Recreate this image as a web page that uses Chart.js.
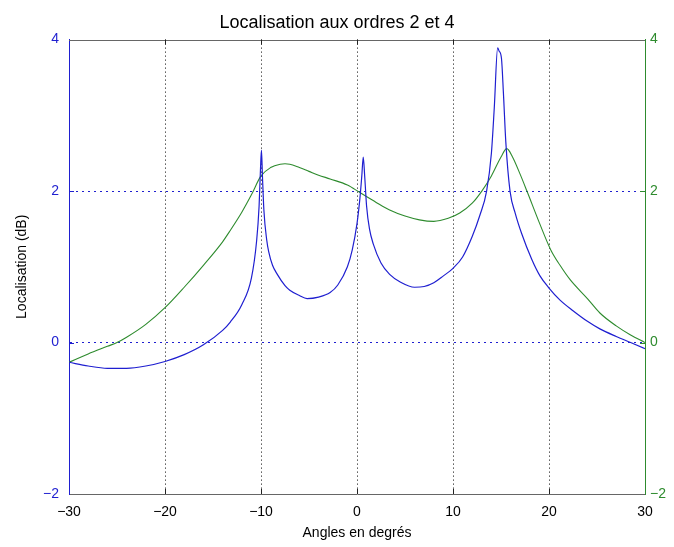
<!DOCTYPE html>
<html lang="fr">
<head>
<meta charset="utf-8">
<title>Localisation aux ordres 2 et 4</title>
<script src="https://cdn.jsdelivr.net/npm/chart.js@4"></script>
<style>
  html, body { margin: 0; padding: 0; background: #fff; }
  #cadre { width: 674px; height: 547px; }
</style>
</head>
<body>
<div id="cadre"><canvas id="grafo" width="674" height="547"></canvas></div>
<script>
// valeurs (angles en degrés)
const anglesBleus = [-30, -28, -26, -24, -22, -20, -18, -16, -14, -13.2, -12, -11, -10.45, -10.2, -10.05, -9.95,
  -9.85, -9.7, -9.4, -9.2, -8.8, -8.3, -7.5, -7, -6, -5.2, -4, -2.8, -2, -1, -0.5, 0, 0.3, 0.5, 0.65,
  0.8, 1, 1.3, 1.7, 2.5, 3.4, 4.5, 6, 7, 8, 9, 10, 11, 12, 12.8, 13.5, 14, 14.3, 14.65, 14.8, 15.05,
  15.25, 15.5, 15.94, 16.5, 17.15, 18.2, 19.06, 20, 21.15, 22.5, 24, 25.3, 27, 28.5, 30];
const valeursBleues = [-0.26, -0.31, -0.34, -0.34, -0.31, -0.25, -0.16, -0.03, 0.16, 0.27, 0.5, 0.85, 1.35, 1.8, 2.3, 2.54,
  2.2, 1.75, 1.35, 1.2, 1.02, 0.9, 0.75, 0.69, 0.62, 0.58, 0.6, 0.66, 0.76, 1.0, 1.22, 1.57, 1.9, 2.2, 2.45,
  2.2, 1.8, 1.5, 1.3, 1.05, 0.9, 0.8, 0.73, 0.74, 0.79, 0.88, 0.98, 1.13, 1.4, 1.68, 2.0, 2.5, 3.1, 3.89, 3.85, 3.75,
  3.3, 2.65, 2.0, 1.7, 1.44, 1.1, 0.88, 0.72, 0.56, 0.42, 0.28, 0.18, 0.08, 0.0, -0.08];

const anglesVerts = [-30, -28, -26, -25, -24, -22, -20, -18, -16, -14, -13.2, -12, -11, -10, -9, -8, -7.5, -7, -6, -5,
  -4, -2.8, -1, 0.3, 2, 3.4, 5, 6.5, 8, 9.5, 10.7, 12, 13, 14, 15, 15.6, 16.2, 17, 17.7, 19, 20.2, 21.15,
  22.2, 24, 25.3, 27, 28.5, 30];
const valeursVertes = [-0.26, -0.15, -0.05, 0.0, 0.07, 0.24, 0.46, 0.73, 1.02, 1.33, 1.48, 1.72, 1.95, 2.2, 2.31, 2.355, 2.36, 2.355, 2.31, 2.26,
  2.21, 2.16, 2.08, 1.98, 1.85, 1.75, 1.67, 1.62, 1.6, 1.64, 1.71, 1.84, 2.0, 2.2, 2.45, 2.56, 2.45, 2.22, 2.0, 1.58, 1.22, 1.02,
  0.83, 0.58, 0.39, 0.22, 0.1, 0.0];

const ticksX = [-30, -20, -10, 0, 10, 20, 30];
const ticksY = [-2, 0, 2, 4];

const bleu = '#1f1fd0';
const vert = '#2e8b2e';
const police = 'Liberation Sans, Arial, Helvetica, sans-serif';

Chart.defaults.font.family = police;

// le cadre du haut et les petites graduations vers l'intérieur
const cadreHaut = {
  id: 'cadreHaut',
  afterDraw(chart) {
    const { ctx, chartArea } = chart;
    const sx = chart.scales.x, sy = chart.scales.y;
    ctx.save();
    ctx.lineWidth = 1;
    ctx.strokeStyle = '#666';
    ctx.beginPath();
    ctx.moveTo(chartArea.left, Math.round(chartArea.top) + 0.5);
    ctx.lineTo(chartArea.right, Math.round(chartArea.top) + 0.5);
    ctx.stroke();
    ctx.strokeStyle = '#222';
    for (const v of ticksX.slice(1, -1)) {
      const px = Math.round(sx.getPixelForValue(v)) + 0.5;
      ctx.beginPath();
      ctx.moveTo(px, chartArea.top); ctx.lineTo(px, chartArea.top + 5);
      ctx.moveTo(px, chartArea.bottom); ctx.lineTo(px, chartArea.bottom - 5);
      ctx.stroke();
    }
    for (const v of ticksY.slice(1, -1)) {
      const py = Math.round(sy.getPixelForValue(v)) + 0.5;
      ctx.strokeStyle = bleu;
      ctx.beginPath();
      ctx.moveTo(chartArea.left, py); ctx.lineTo(chartArea.left + 5, py);
      ctx.stroke();
      ctx.strokeStyle = vert;
      ctx.beginPath();
      ctx.moveTo(chartArea.right, py); ctx.lineTo(chartArea.right - 5, py);
      ctx.stroke();
    }
    ctx.restore();
  }
};

const moins = v => String(v).replace('-', '\u2212');

new Chart(document.getElementById('grafo'), {
  type: 'line',
  data: {
    datasets: [
      {
        label: 'bleu',
        data: anglesBleus.map((a, i) => ({ x: a, y: valeursBleues[i] })),
        borderColor: bleu,
        borderWidth: 1.2,
        pointRadius: 0,
        cubicInterpolationMode: 'monotone',
        yAxisID: 'y'
      },
      {
        label: 'vert',
        data: anglesVerts.map((a, i) => ({ x: a, y: valeursVertes[i] })),
        borderColor: vert,
        borderWidth: 1.1,
        pointRadius: 0,
        cubicInterpolationMode: 'monotone',
        yAxisID: 'y2'
      }
    ]
  },
  options: {
    responsive: false,
    animation: false,
    layout: { padding: 0 },
    plugins: {
      legend: { display: false },
      tooltip: { enabled: false },
      title: {
        display: true,
        text: 'Localisation aux ordres 2 et 4',
        color: '#000',
        font: { size: 18, weight: 'normal' },
        padding: { top: 12, bottom: 6 }
      }
    },
    scales: {
      x: {
        type: 'linear',
        min: -30,
        max: 30,
        afterBuildTicks: s => { s.ticks = ticksX.map(v => ({ value: v })); },
        afterFit: s => { s.height = 53; },
        grid: {
          color: c => (c.tick.value === -30 || c.tick.value === 30) ? 'rgba(0,0,0,0)' : '#000',
          lineWidth: 1,
          drawTicks: false
        },
        border: { color: '#666', dash: [1, 3] },
        ticks: { color: '#000', font: { size: 14 }, padding: 10, callback: moins, maxRotation: 0 },
        title: {
          display: true,
          text: 'Angles en degrés',
          color: '#000',
          font: { size: 14 },
          padding: { top: 0, bottom: 5 }
        }
      },
      y: {
        position: 'left',
        min: -2,
        max: 4,
        afterBuildTicks: s => { s.ticks = ticksY.map(v => ({ value: v })); },
        afterFit: s => { s.width = 69; },
        grid: {
          color: c => (c.tick.value === 0 || c.tick.value === 2) ? bleu : 'rgba(0,0,0,0)',
          lineWidth: 1,
          drawTicks: false
        },
        border: { color: bleu, dash: [2, 4] },
        ticks: { color: bleu, font: { size: 14 }, padding: 10, callback: moins },
        title: {
          display: true,
          text: 'Localisation (dB)',
          color: '#000',
          font: { size: 14 },
          padding: { top: 14 }
        }
      },
      y2: {
        position: 'right',
        min: -2,
        max: 4,
        afterBuildTicks: s => { s.ticks = ticksY.map(v => ({ value: v })); },
        afterFit: s => { s.width = 29; },
        grid: { display: false, drawTicks: false },
        border: { color: vert },
        ticks: { color: vert, font: { size: 14 }, padding: 5, callback: moins }
      }
    }
  },
  plugins: [cadreHaut]
});
</script>
</body>
</html>
